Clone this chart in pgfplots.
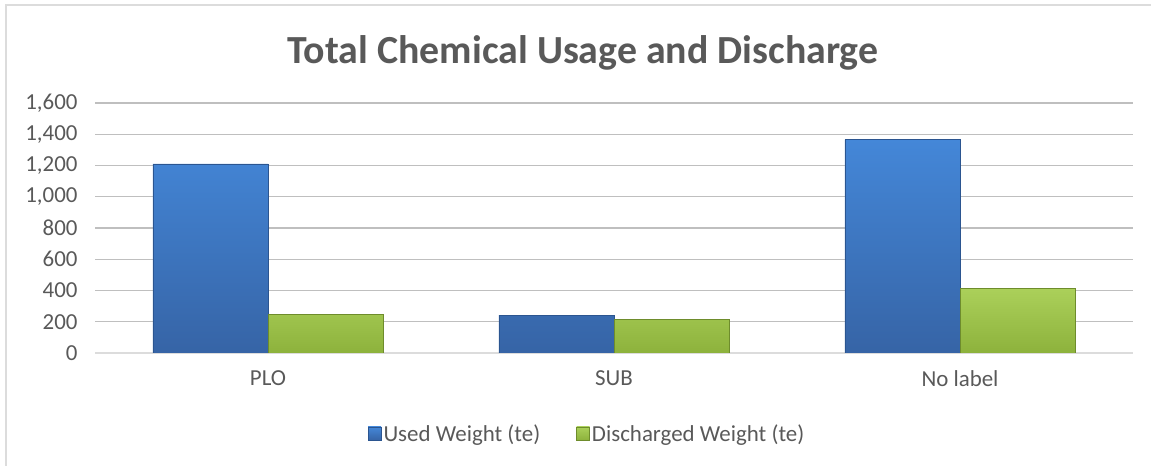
\documentclass[border=0pt]{standalone}
\usepackage{pgfplots}
\pgfplotsset{compat=1.18}
\usepackage{fontspec}
\setmainfont{Carlito}
\definecolor{txt}{HTML}{595959}
\definecolor{grid}{HTML}{DCDCDC}
\definecolor{blueT}{HTML}{4487D8}
\definecolor{blueB}{HTML}{3664A6}
\definecolor{blueE}{HTML}{2B5590}
\definecolor{greenT}{HTML}{ABD05A}
\definecolor{greenB}{HTML}{8DB23C}
\definecolor{greenE}{HTML}{6E8C2C}
\begin{document}
\begin{tikzpicture}[x=1bp,y=1bp]
\useasboundingbox (0,0) rectangle (1151,466);
\draw[grid, line width=1.5bp] (6,0) -- (6,461) -- (1151,461);
\node[text=txt, font=\fontsize{40}{44}\selectfont\bfseries] at (583,413) {Total Chemical Usage and Discharge};
\begin{axis}[
  at={(95bp,113bp)}, anchor=south west,
  scale only axis, width=1038bp, height=250bp,
  ybar=0pt, bar width=115bp,
  xmin=-0.5, xmax=2.5, ymin=0, ymax=1600,
  xtick=data, xticklabels={PLO,SUB,No label},
  ytick={0,200,...,1600},
  axis x line*=bottom, axis y line*=left,
  y axis line style={draw=none},
  x axis line style={grid, line width=2bp},
  ymajorgrids, xmajorgrids=false, major grid style={grid, line width=1.1bp},
  major tick length=0pt,
  tick label style={text=txt, font=\fontsize{23}{27}\selectfont},
  /pgf/number format/assume math mode=true,
  /pgf/number format/1000 sep={,},
  yticklabel style={xshift=-14bp},
  xticklabel style={yshift=-14bp},
  legend style={at={(0.474,-0.324)}, anchor=center, draw=none, fill=none,
    legend columns=2, font=\fontsize{23}{27}\selectfont, text=txt,
    /tikz/every even column/.append style={column sep=34bp}},
  legend image code/.code={\draw[#1] (-2bp,-6bp) rectangle (11bp,7bp);},
  legend cell align=left,
]
\addplot[draw=blueE, line width=0.8bp, top color=blueT, bottom color=blueB] coordinates {(0,1210) (1,242) (2,1366)};
\addplot[draw=greenE, line width=0.8bp, top color=greenT, bottom color=greenB] coordinates {(0,244) (1,213) (2,412)};
\legend{Used Weight (te),Discharged Weight (te)}
\end{axis}
\end{tikzpicture}
\end{document}
